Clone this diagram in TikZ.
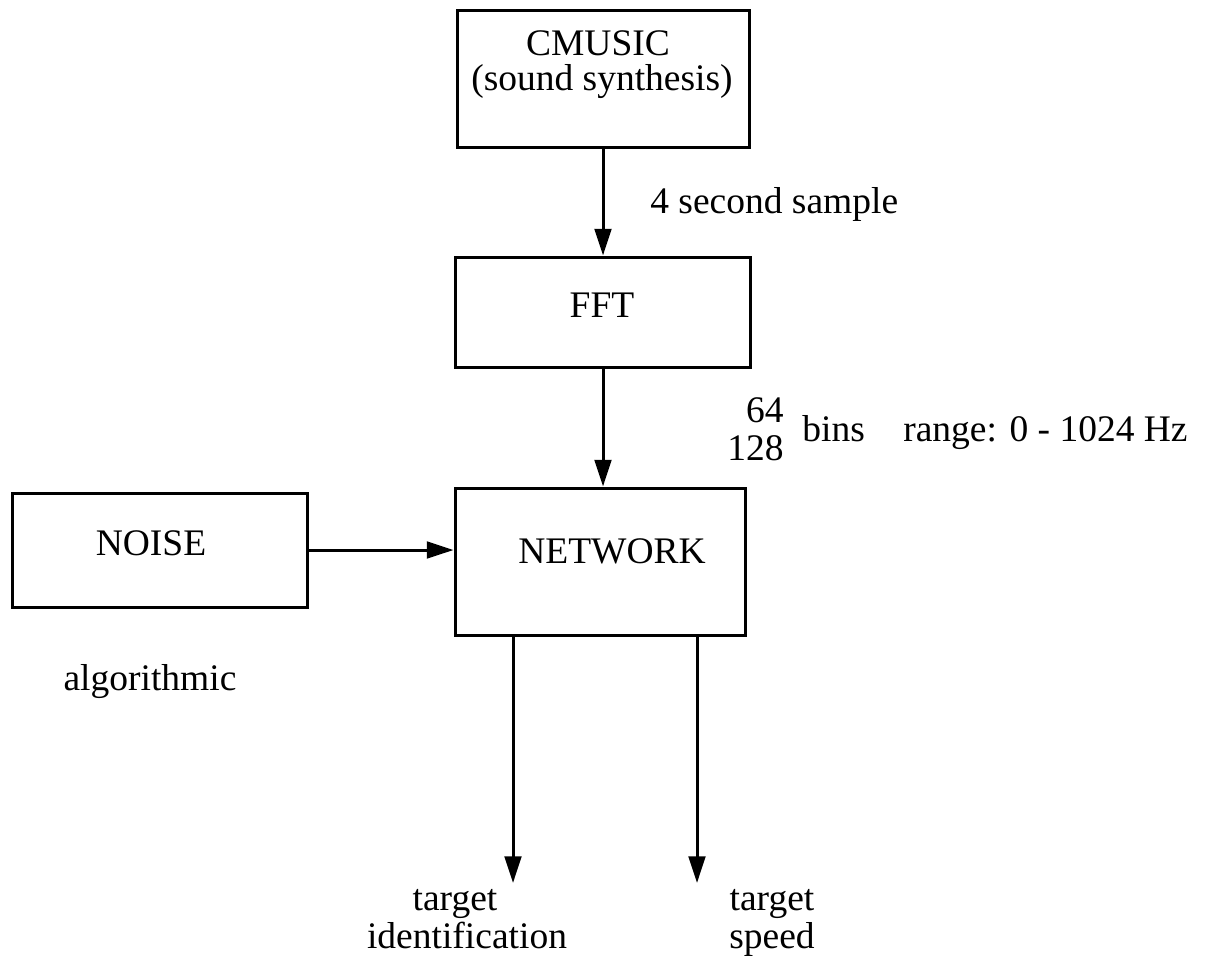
\documentclass[tikz,border=0pt]{standalone}
\usepackage{fontspec}
\setmainfont{Liberation Serif}
\usetikzlibrary{arrows.meta}
\begin{document}
\begin{tikzpicture}[x=0.6pt,y=-0.6pt,
  box/.style={draw,line width=1.8pt,inner sep=0pt},
  lbl/.style={inner sep=0pt,font=\fontsize{22.5}{24}\selectfont},
  arr/.style={line width=1.8pt,-{Triangle[length=16pt,width=10pt]}}]
\useasboundingbox (0,0) rectangle (1208,959);
% boxes
\node[box,minimum width=175.2pt,minimum height=82.2pt] (cmusic) at (603,78.5) {};
\node[box,minimum width=177pt,minimum height=66pt] (fft) at (603,312) {};
\node[box,minimum width=174pt,minimum height=88.2pt] (network) at (600,561.5) {};
\node[box,minimum width=177pt,minimum height=68.4pt] (noise) at (159.5,550) {};
% box texts
\node[lbl,anchor=base] (cmusictxt) at (598,55) {CMUSIC};
\node[lbl,anchor=base] (cmusictxt2) at (602,90) {(sound synthesis)};
\node[lbl,anchor=base] (ffttxt) at (602,317) {FFT};
\node[lbl,anchor=base] (networktxt) at (612,563) {NETWORK};
\node[lbl,anchor=base] (noisetxt) at (151,555) {NOISE};
% connectors
\coordinate (out1) at (513,883);
\coordinate (out2) at (697,883);
\draw[arr] (cmusic.south) -- (cmusic.south |- fft.north);
\draw[arr] (fft.south) -- (fft.south |- network.north);
\draw[arr] (noise.east) -- (noise.east -| network.west);
\draw[arr] (network.south -| out1) -- (out1);
\draw[arr] (network.south -| out2) -- (out2);
% labels
\node[lbl,anchor=base west] (sample) at (650,213) {4 second sample};
\node[lbl,anchor=base east] (n64) at (784,422) {64};
\node[lbl,anchor=base east] (n128) at (784,460) {128};
\node[lbl,anchor=base west] (bins) at (802,441) {bins};
\node[lbl,anchor=base west] (range) at (903,441) {range: 0 - 1024 Hz};
\node[lbl,anchor=base] (algo) at (150,690) {algorithmic};
\node[lbl,anchor=base] (tgt1) at (455,910) {target};
\node[lbl,anchor=base] (tgt1b) at (467,948) {identification};
\node[lbl,anchor=base] (tgt2) at (772,910) {target};
\node[lbl,anchor=base] (tgt2b) at (772,948) {speed};
\end{tikzpicture}
\end{document}
